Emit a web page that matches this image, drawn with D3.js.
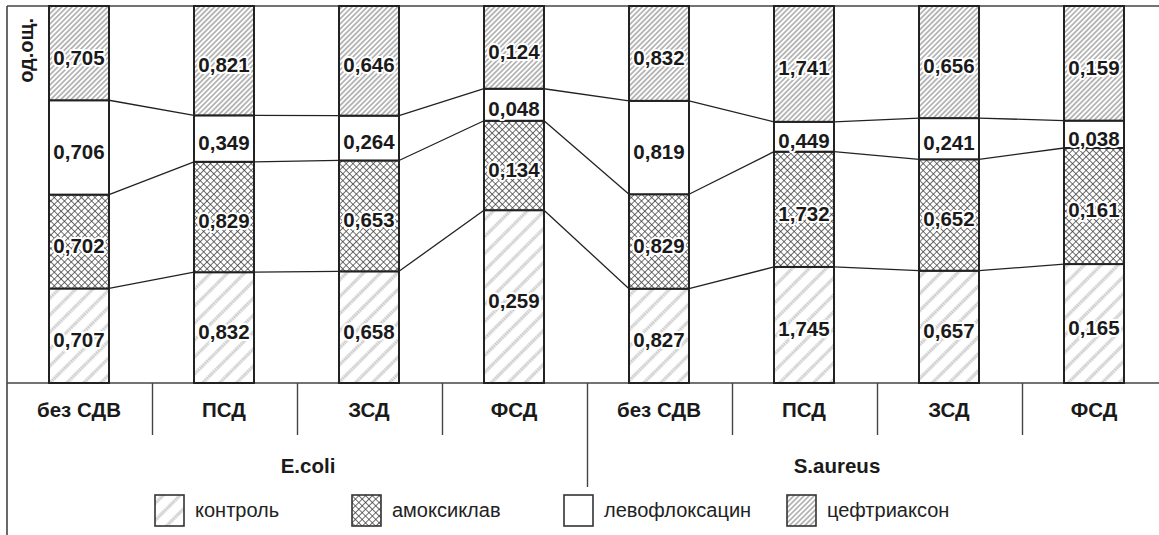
<!DOCTYPE html>
<html><head><meta charset="utf-8">
<script src="https://cdn.jsdelivr.net/npm/d3@7"></script>
<style>
html,body{margin:0;padding:0;background:#fff;}
svg{display:block;font-family:"Liberation Sans",Arial,sans-serif;}
</style></head>
<body>
<svg id="c" width="1159" height="535"></svg>
<script>
const categories = ["без СДВ","ПСД","ЗСД","ФСД","без СДВ","ПСД","ЗСД","ФСД"];
const groups = ["E.coli","S.aureus"];
const seriesNames = ["контроль","амоксиклав","левофлоксацин","цефтриаксон"];
const control = [0.707,0.832,0.658,0.259,0.827,1.745,0.657,0.165];
const amoxiclav = [0.702,0.829,0.653,0.134,0.829,1.732,0.652,0.161];
const levofloxacin = [0.706,0.349,0.264,0.048,0.819,0.449,0.241,0.038];
const ceftriaxone = [0.705,0.821,0.646,0.124,0.832,1.741,0.656,0.159];
const yLabel = "од.ощ.";

(function(){
const seriesVals = [control, amoxiclav, levofloxacin, ceftriaxone];
const keys = ["s0","s1","s2","s3"];
const rows = categories.map((c,i)=>{const r={i:i}; keys.forEach((k,j)=>r[k]=seriesVals[j][i]); return r;});
const stacked = d3.stack().keys(keys).offset(d3.stackOffsetExpand)(rows);

const svg = d3.select("#c");
const pLeft = 7, pTop = 6, pBottom = 383;
const x = d3.scaleBand().domain(d3.range(categories.length)).range([6.5, 6.5+145*8]).paddingInner(0).paddingOuter(0);
const barW = 60;
const y = d3.scaleLinear().domain([0,1]).range([pBottom, pTop]);

const defs = svg.append("defs");
function stripe(id, size, w, color, rot){
  const p = defs.append("pattern").attr("id",id).attr("patternUnits","userSpaceOnUse")
    .attr("width",size).attr("height",size).attr("patternTransform","rotate("+rot+")");
  p.append("rect").attr("width",size).attr("height",size).attr("fill","#fff");
  p.append("line").attr("x1",size/2).attr("x2",size/2).attr("y1",0).attr("y2",size)
    .attr("stroke",color).attr("stroke-width",w);
  return p;
}
const pc = stripe("p0", 12, 3.2, "#c4c4c4", 45);
pc.select("line").attr("stroke-dasharray","1.6,0.8");
const pa = defs.append("pattern").attr("id","p1").attr("patternUnits","userSpaceOnUse")
  .attr("width",4.8).attr("height",4.8).attr("patternTransform","rotate(45)");
pa.append("rect").attr("width",4.8).attr("height",4.8).attr("fill","#fff");
pa.append("line").attr("x1",0).attr("x2",4.8).attr("y1",0.4).attr("y2",0.4).attr("stroke","#3a3a3a").attr("stroke-width",0.8);
pa.append("line").attr("x1",0.4).attr("x2",0.4).attr("y1",0).attr("y2",4.8).attr("stroke","#3a3a3a").attr("stroke-width",0.8);
defs.append("pattern").attr("id","p2").attr("patternUnits","userSpaceOnUse").attr("width",4).attr("height",4)
  .append("rect").attr("width",4).attr("height",4).attr("fill","#fff");
stripe("p3", 3.6, 0.9, "#6a6a6a", 45);
const fills = ["url(#p0)","url(#p1)","url(#p2)","url(#p3)"];

const ax = "#444";
svg.append("line").attr("x1",pLeft).attr("x2",1159).attr("y1",pTop).attr("y2",pTop).attr("stroke",ax).attr("stroke-width",1.6);
svg.append("line").attr("x1",pLeft).attr("x2",1159).attr("y1",pBottom).attr("y2",pBottom).attr("stroke",ax).attr("stroke-width",1.6);
svg.append("line").attr("x1",pLeft).attr("x2",pLeft).attr("y1",pTop).attr("y2",535).attr("stroke",ax).attr("stroke-width",1.6);

for(let i=1;i<categories.length;i++){
  const xx = Math.round(x(i))+0.5;
  svg.append("line").attr("x1",xx).attr("x2",xx).attr("y1",pBottom).attr("y2", i===4?487:435)
    .attr("stroke",ax).attr("stroke-width",1.4);
}

for(let s=0;s<3;s++){
  const layer = stacked[s];
  for(let i=0;i<categories.length-1;i++){
    const cx1 = x(i)+x.bandwidth()/2+barW/2, cx2 = x(i+1)+x.bandwidth()/2-barW/2;
    svg.append("line").attr("x1",cx1).attr("x2",cx2).attr("y1",y(layer[i][1])).attr("y2",y(layer[i+1][1]))
      .attr("stroke","#222").attr("stroke-width",1.3);
  }
}

stacked.forEach((layer,s)=>{
  svg.append("g").selectAll("rect").data(layer).join("rect")
    .attr("x",(d,i)=>x(i)+x.bandwidth()/2-barW/2).attr("width",barW)
    .attr("y",d=>y(d[1])).attr("height",d=>y(d[0])-y(d[1]))
    .attr("fill",fills[s]).attr("stroke","#222").attr("stroke-width",2);
});
stacked.forEach((layer,s)=>{
  svg.append("g").selectAll("text").data(layer).join("text")
    .attr("x",(d,i)=>x(i)+x.bandwidth()/2).attr("y",d=>(y(d[0])+y(d[1]))/2+4)
    .attr("dy","0.36em").attr("text-anchor","middle")
    .attr("font-size",20.5).attr("font-weight","bold").attr("fill","#1a1a1a")
    .attr("stroke","#fff").attr("stroke-width",4).attr("paint-order","stroke").attr("stroke-linejoin","round")
    .text((d,i)=>d3.format(".3f")(seriesVals[s][i]).replace(".",","));
});

svg.append("g").selectAll("text").data(categories).join("text")
  .attr("x",(d,i)=>x(i)+x.bandwidth()/2).attr("y",417).attr("text-anchor","middle")
  .attr("font-size",20.5).attr("font-weight","bold").attr("fill","#1a1a1a").text(d=>d);
const groupX = [308, 837];
svg.append("g").selectAll("text").data(groups).join("text")
  .attr("x",(d,i)=>groupX[i]).attr("y",473).attr("text-anchor","middle")
  .attr("font-size",20.5).attr("font-weight","bold").attr("fill","#1a1a1a").text(d=>d);

svg.append("text").attr("transform","translate(33,18) rotate(-90)").attr("text-anchor","end")
  .attr("font-size",20).attr("font-weight","bold").attr("fill","#1a1a1a").text(yLabel);

const legX = [155, 352, 564, 787];
const leg = svg.append("g").selectAll("g").data(seriesNames).join("g")
  .attr("transform",(d,i)=>"translate("+legX[i]+",495)");
leg.append("rect").attr("width",29).attr("height",31).attr("fill",(d,i)=>fills[i]).attr("stroke","#333").attr("stroke-width",1.6);
leg.append("text").attr("x",40).attr("y",22).attr("font-size",20).attr("fill","#222").text(d=>d);
})();
</script>
</body></html>
